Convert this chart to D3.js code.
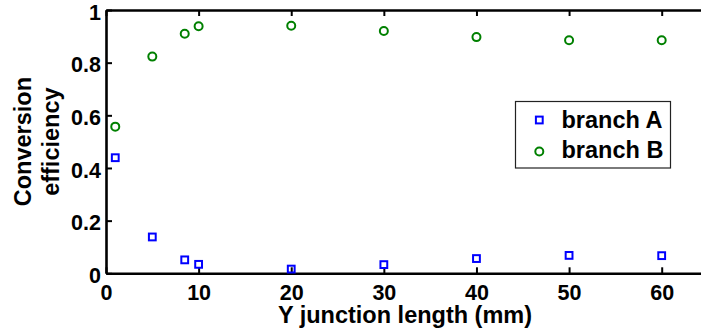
<!DOCTYPE html>
<html><head><meta charset="utf-8">
<script src="https://cdn.jsdelivr.net/npm/d3@7/dist/d3.min.js"></script>
<style>
html,body{margin:0;padding:0;background:#fff;}
svg{display:block;font-family:"Liberation Sans",Arial,Helvetica,sans-serif;font-weight:bold;}
</style></head>
<body><svg id="c" width="701" height="334"></svg>
<script>
const lengthsA = [1, 5, 8.5, 10, 20, 30, 40, 50, 60];
const branchA  = [0.439, 0.138, 0.051, 0.034, 0.016, 0.033, 0.056, 0.068, 0.067];
const lengthsB = [1, 5, 8.5, 10, 20, 30, 40, 50, 60];
const branchB  = [0.557, 0.823, 0.910, 0.938, 0.940, 0.920, 0.897, 0.885, 0.885];
const xTicks = [0, 10, 20, 30, 40, 50, 60];
const yTicks = [0, 0.2, 0.4, 0.6, 0.8, 1];
const yTickLabels = ["0", "0.2", "0.4", "0.6", "0.8", "1"];
const seriesNames = ["branch A", "branch B"];
const seriesColors = ["#0000ff", "#008000"];

const svg = d3.select("#c");
const L = 106, T = 10, B = 273.3, R = 708;
const x = d3.scaleLinear().domain([0, 65]).range([L, R]);
const y = d3.scaleLinear().domain([0, 1]).range([B, T]);
const tickFs = 21.5, labFs = 23.5;
const FF = '"Liberation Sans",Arial,sans-serif';

const xb = svg.append("g").attr("transform", `translate(0,${B})`)
  .call(d3.axisBottom(x).tickValues(xTicks).tickSizeInner(-6).tickSizeOuter(0).tickFormat(d3.format("d")));
const xt = svg.append("g").attr("transform", `translate(0,${T})`)
  .call(d3.axisTop(x).tickValues(xTicks).tickSizeInner(-6).tickSizeOuter(0).tickFormat(""));
const yl = svg.append("g").attr("transform", `translate(${L},0)`)
  .call(d3.axisLeft(y).tickValues(yTicks).tickSizeInner(-6).tickSizeOuter(0).tickPadding(5).tickFormat((d,i)=>yTickLabels[i]));

[xb, xt, yl].forEach(g => {
  g.attr("font-family", null).attr("font-size", null);
  g.select(".domain").attr("stroke", "#000").attr("stroke-width", 2.6);
  g.selectAll(".tick line").attr("stroke", "#000").attr("stroke-width", 2);
  g.selectAll("text").attr("fill", "#000").style("font-size", tickFs + "px").style("font-weight", "bold")
    .style("font-family", FF);
});
xb.selectAll("text").attr("y", 300 - B).attr("dy", 0);
yl.selectAll("text").attr("dy", "0.42em");

svg.append("text").attr("x", 405).attr("y", 323).attr("text-anchor", "middle")
  .style("font-size", labFs + "px").style("font-family", FF).text("Y junction length (mm)");
const ylab = svg.append("text").attr("transform", `translate(0,${(T + B) / 2}) rotate(-90)`)
  .attr("text-anchor", "middle").style("font-size", labFs + "px").style("font-family", FF);
ylab.append("tspan").attr("x", 0).attr("y", 31).text("Conversion");
ylab.append("tspan").attr("x", 0).attr("y", 59).text("efficiency");

svg.append("g").selectAll("rect").data(lengthsA.map((d, i) => [d, branchA[i]])).join("rect")
  .attr("x", d => x(d[0]) - 3.4).attr("y", d => y(d[1]) - 3.4).attr("width", 6.8).attr("height", 6.8)
  .attr("fill", "none").attr("stroke", seriesColors[0]).attr("stroke-width", 2);
svg.append("g").selectAll("circle").data(lengthsB.map((d, i) => [d, branchB[i]])).join("circle")
  .attr("cx", d => x(d[0])).attr("cy", d => y(d[1])).attr("r", 4)
  .attr("fill", "none").attr("stroke", seriesColors[1]).attr("stroke-width", 2);

const lg = svg.append("g");
lg.append("rect").attr("x", 515.5).attr("y", 101.5).attr("width", 155).attr("height", 66.5)
  .attr("fill", "#fff").attr("stroke", "#222").attr("stroke-width", 1.2);
const rowY = [120, 151.5];
lg.append("rect").attr("x", 539.3 - 3.4).attr("y", rowY[0] - 3.4).attr("width", 6.8).attr("height", 6.8)
  .attr("fill", "none").attr("stroke", seriesColors[0]).attr("stroke-width", 2);
lg.append("circle").attr("cx", 539.3).attr("cy", rowY[1]).attr("r", 4)
  .attr("fill", "none").attr("stroke", seriesColors[1]).attr("stroke-width", 2);
const textBase = [128.3, 158.3];
seriesNames.forEach((n, i) => {
  lg.append("text").attr("x", 561.5).attr("y", textBase[i]).style("font-size", labFs + "px")
    .style("font-family", FF).text(n);
});
</script></body></html>
